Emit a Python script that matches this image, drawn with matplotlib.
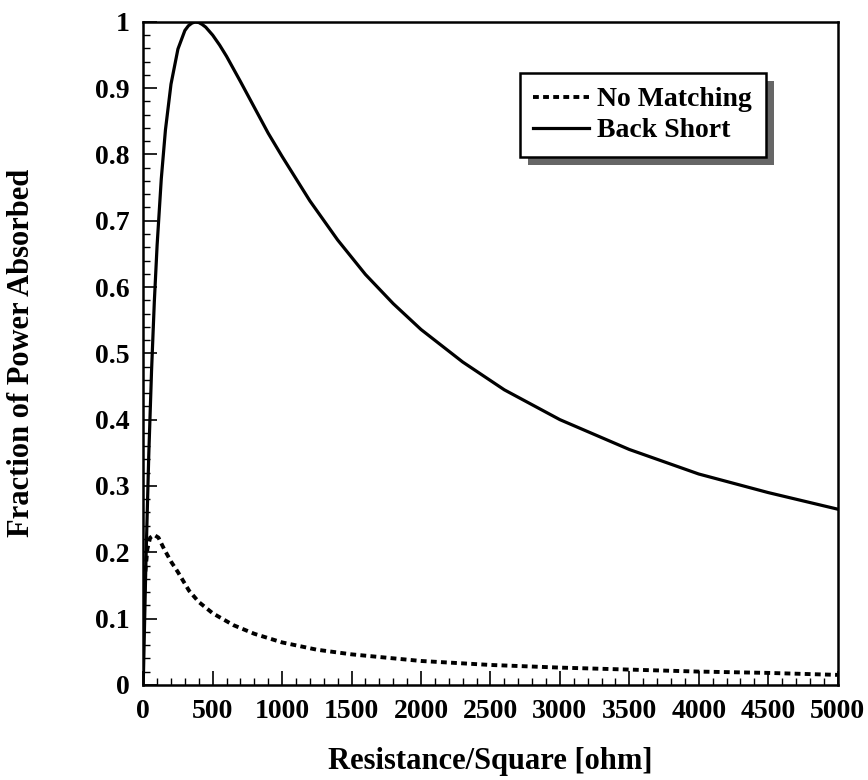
import matplotlib
matplotlib.use('Agg')
import matplotlib.pyplot as plt
from matplotlib.patches import Rectangle
from matplotlib.ticker import MultipleLocator

# Werte
r_short = [0, 20, 40, 60, 80, 100, 130, 160, 200, 250, 300, 325, 350, 375, 400,
           425, 450, 500, 550, 600, 700, 800, 900, 1000, 1200, 1400, 1600, 1800,
           2000, 2300, 2600, 3000, 3500, 4000, 4500, 5000]
a_short = [0.0, 0.19, 0.347, 0.474, 0.578, 0.663, 0.763, 0.837, 0.906, 0.959,
           0.987, 0.994, 0.998, 1.0, 0.999, 0.996, 0.992, 0.98, 0.965, 0.948,
           0.91, 0.871, 0.832, 0.797, 0.73, 0.671, 0.619, 0.575, 0.536, 0.487,
           0.445, 0.4, 0.355, 0.318, 0.29, 0.265]

r_nomatch = [0, 15, 30, 50, 80, 110, 150, 200, 250, 330, 400, 500, 650, 800,
             1000, 1250, 1500, 1750, 2000, 2500, 3000, 3500, 4000, 4500, 5000]
a_nomatch = [0.11, 0.17, 0.205, 0.222, 0.226, 0.222, 0.205, 0.186, 0.17, 0.142,
             0.125, 0.108, 0.09, 0.077, 0.064, 0.053, 0.046, 0.041, 0.036,
             0.03, 0.026, 0.023, 0.02, 0.018, 0.015]

xticks = [0, 500, 1000, 1500, 2000, 2500, 3000, 3500, 4000, 4500, 5000]
yticks = [0, 0.1, 0.2, 0.3, 0.4, 0.5, 0.6, 0.7, 0.8, 0.9, 1]
ytick_labels = ['0', '0.1', '0.2', '0.3', '0.4', '0.5', '0.6', '0.7', '0.8', '0.9', '1']

plt.rcParams['font.family'] = ['Liberation Serif', 'DejaVu Serif']
plt.rcParams['font.weight'] = 'bold'

fig = plt.figure(figsize=(8.68, 7.8), dpi=100)
ax = fig.add_axes([0.165, 0.122, 0.8, 0.85])

ax.plot(r_nomatch, a_nomatch, color='black', lw=2.8, linestyle=(0, (1.5, 1.1)),
        label='No Matching')
ax.plot(r_short, a_short, color='black', lw=2.3, label='Back Short')

ax.set_xlim(0, 5000)
ax.set_ylim(0, 1)
ax.set_xticks(xticks)
ax.set_yticks(yticks)
ax.set_yticklabels(ytick_labels)
ax.xaxis.set_minor_locator(MultipleLocator(100))
ax.yaxis.set_minor_locator(MultipleLocator(0.02))
ax.tick_params(which='major', direction='in', length=10, width=1.2,
               labelsize=20, pad=10)
ax.tick_params(which='minor', direction='in', length=5, width=1)
for s in ax.spines.values():
    s.set_linewidth(1.8)

ax.set_xlabel('Resistance/Square [ohm]', fontsize=22, fontweight='bold', labelpad=17)
ax.set_ylabel('Fraction of Power Absorbed', fontsize=22, fontweight='bold', labelpad=42)

leg = ax.legend(loc='upper left', bbox_to_anchor=(0.542, 0.923), borderaxespad=0,
                fontsize=20, frameon=True, fancybox=False, edgecolor='black',
                framealpha=1, handlelength=2.0, handletextpad=0.3, borderpad=0.5,
                labelspacing=0.2)
leg.get_frame().set_linewidth(1.8)
leg.set_zorder(5)

# Schatten der Legende
fig.canvas.draw()
bb = leg.get_window_extent().transformed(ax.transAxes.inverted())
dx = 8 / ax.bbox.width
dy = 8 / ax.bbox.height
shadow = Rectangle((bb.x0 + dx, bb.y0 - dy), bb.width, bb.height,
                   transform=ax.transAxes, facecolor='0.4', edgecolor='none',
                   zorder=4)
ax.add_patch(shadow)

fig.savefig('out.png', dpi=100)
